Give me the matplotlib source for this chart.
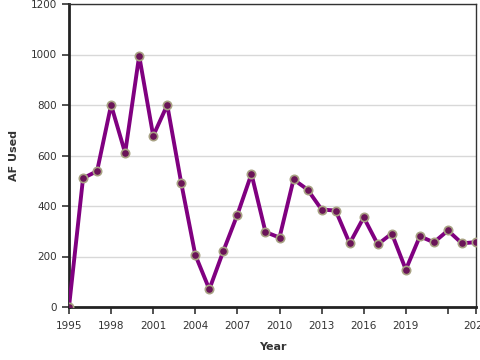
import matplotlib
matplotlib.use("Agg")
import matplotlib.pyplot as plt

# AF used per year
years = list(range(1995, 2025))
af_used = [0, 510, 538, 800, 610, 995, 678, 800, 490, 206,
           70, 222, 366, 527, 297, 275, 505, 465, 386, 382,
           252, 355, 248, 291, 148, 280, 256, 303, 252, 257]

tick_years = [1995, 1998, 2001, 2004, 2007, 2010, 2013, 2016, 2019, 2022, 2024]
tick_labels = ["1995", "1998", "2001", "2004", "2007", "2010", "2013", "2016", "2019", "", "2024"]

fig = plt.figure(figsize=(4.8, 3.6), dpi=100)
ax = fig.add_axes([69 / 480, 1 - 307 / 360, 407 / 480, 303 / 360])

ax.plot(years, af_used, color="#800080", linewidth=2.8, zorder=3,
        marker="o", markersize=6, markerfacecolor="#6a1458",
        markeredgecolor="#a8a283", markeredgewidth=1.2)

ax.set_xlim(1995, 2024)
ax.set_ylim(0, 1200)
ax.set_yticks(range(0, 1201, 200))
ax.set_xticks(tick_years)
ax.set_xticklabels(tick_labels)
ax.grid(axis="y", color="#d8d8d8", linewidth=1)
ax.set_axisbelow(True)

for side in ["left", "bottom"]:
    ax.spines[side].set_linewidth(2)
    ax.spines[side].set_color("#222222")
for side in ["top", "right"]:
    ax.spines[side].set_linewidth(1)
    ax.spines[side].set_color("#333333")

ax.tick_params(axis="both", labelsize=7.5, colors="#333333", length=5, width=1.2)
ax.tick_params(axis="x", pad=5)
ax.set_xlabel("Year", fontsize=8, fontweight="bold", color="#333333")
ax.set_ylabel("AF Used", fontsize=8, fontweight="bold", color="#333333")
ax.yaxis.set_label_coords(-0.122, 0.5)
ax.xaxis.set_label_coords(0.5, -0.115)

fig.savefig("out.png", dpi=100)
